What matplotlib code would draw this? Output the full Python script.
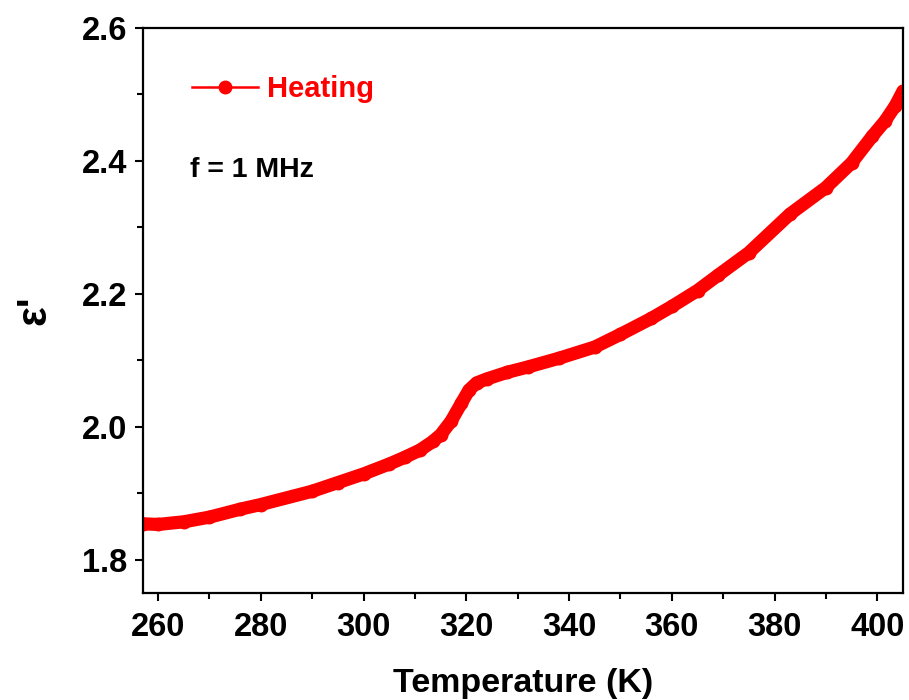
import matplotlib
matplotlib.use("Agg")
import matplotlib.pyplot as plt
from matplotlib.lines import Line2D
from matplotlib.ticker import MultipleLocator

plt.rcParams['font.family'] = ['Liberation Sans', 'DejaVu Sans']
plt.rcParams['font.weight'] = 'bold'

# temperature (K) and real permittivity, heating run at 1 MHz
temp = [257, 260, 265, 270, 276, 280, 290, 295, 300, 305, 308, 311, 313.5,
        315, 317, 319, 320.5, 322, 324, 328, 332, 338, 345, 350, 356, 360,
        365, 369, 375, 383, 390, 395, 399, 401.5, 403.5, 405]
eps = [1.854, 1.853, 1.857, 1.864, 1.876, 1.883, 1.903, 1.916, 1.929, 1.944,
       1.954, 1.965, 1.978, 1.988, 2.008, 2.035, 2.055, 2.066, 2.072, 2.082,
       2.090, 2.103, 2.120, 2.139, 2.163, 2.181, 2.205, 2.228, 2.262, 2.320,
       2.360, 2.397, 2.437, 2.460, 2.483, 2.505]

fig = plt.figure(figsize=(9.09, 7.0), dpi=100)
ax = fig.add_axes([0.157, 0.153, 0.8364, 0.807])

ax.plot(temp, eps, '-o', color='red', lw=9.5, ms=9, mec='red', mfc='red',
        solid_capstyle='round', solid_joinstyle='round')

ax.set_xlim(257, 405)
ax.set_ylim(1.75, 2.6)
ax.xaxis.set_major_locator(MultipleLocator(20))
ax.xaxis.set_minor_locator(MultipleLocator(10))
ax.yaxis.set_major_locator(MultipleLocator(0.2))
ax.yaxis.set_minor_locator(MultipleLocator(0.1))
ax.yaxis.set_major_formatter(matplotlib.ticker.FormatStrFormatter('%.1f'))

for s in ax.spines.values():
    s.set_linewidth(1.6)
ax.tick_params(which='major', direction='out', length=6, width=1.5,
               labelsize=23.5, pad=5)
ax.tick_params(axis='x', which='major', pad=8)
ax.tick_params(which='minor', direction='out', length=4, width=1.5)
for lab in ax.get_xticklabels() + ax.get_yticklabels():
    lab.set_fontweight('bold')

ax.set_xlabel('Temperature (K)', fontsize=24.5, fontweight='bold', labelpad=18)
ax.set_ylabel("ε'", fontsize=30, fontweight='bold', labelpad=20)

handle = Line2D([], [], color='red', lw=1.8, marker='o', ms=9,
                mfc='red', mec='red')
leg = ax.legend([handle], ['Heating'], loc='center left', frameon=False,
                fontsize=21, handlelength=2.25, handletextpad=0.3,
                borderaxespad=0, borderpad=0,
                bbox_to_anchor=(0.065, 0.892))
for t in leg.get_texts():
    t.set_color('red')
    t.set_fontweight('bold')

ax.text(0.062, 0.749, 'f = 1 MHz', transform=ax.transAxes, fontsize=20.5,
        fontweight='bold', color='black', va='center')

fig.savefig('out.png', dpi=100, facecolor='white')
